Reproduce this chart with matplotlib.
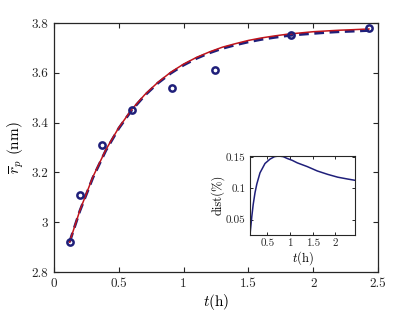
import matplotlib
matplotlib.use("Agg")
import matplotlib.pyplot as plt

plt.rcParams['font.family'] = ['cmr10', 'DejaVu Serif']
plt.rcParams['mathtext.fontset'] = 'cm'
plt.rcParams['axes.formatter.use_mathtext'] = True

# experimental points
t_exp = [0.12, 0.20, 0.37, 0.60, 0.91, 1.24, 1.83, 2.43]
r_exp = [2.92, 3.11, 3.31, 3.45, 3.54, 3.61, 3.75, 3.78]

# model curves
t_fit = [0.12, 0.20, 0.30, 0.40, 0.50, 0.60, 0.70, 0.80, 0.90, 1.00, 1.10, 1.20,
         1.30, 1.40, 1.50, 1.60, 1.70, 1.80, 1.90, 2.00, 2.10, 2.20, 2.30, 2.43]
r_red = [2.920, 3.048, 3.182, 3.291, 3.380, 3.453, 3.512, 3.561, 3.602, 3.635,
         3.662, 3.684, 3.703, 3.717, 3.730, 3.740, 3.748, 3.755, 3.760, 3.765,
         3.768, 3.771, 3.773, 3.776]
r_blue = [2.920, 3.046, 3.179, 3.288, 3.377, 3.450, 3.509, 3.558, 3.598, 3.631,
          3.658, 3.680, 3.698, 3.712, 3.724, 3.734, 3.742, 3.749, 3.754, 3.758,
          3.762, 3.765, 3.767, 3.770]

# inset: relative distance
t_dist = [0.12, 0.16, 0.19, 0.23, 0.27, 0.34, 0.45, 0.56, 0.66, 0.75, 0.85,
          0.94, 1.05, 1.16, 1.38, 1.60, 1.83, 2.05, 2.27, 2.43]
d_dist = [0.026, 0.055, 0.074, 0.093, 0.107, 0.125, 0.140, 0.147, 0.151, 0.152,
          0.151, 0.148, 0.145, 0.141, 0.135, 0.128, 0.1225, 0.118, 0.115, 0.113]

navy = '#1f1f7a'
red = '#c0141b'
spine = '#262626'

fig = plt.figure(figsize=(4.17, 3.13), dpi=100)
ax = fig.add_axes([54/417, 1-272/313, 324/417, 249/313])
ax.plot(t_fit, r_red, color=red, lw=1.1, zorder=3)
ax.plot(t_fit, r_blue, color=navy, lw=2.0, ls=(0, (3.5, 2)), zorder=2)
ax.plot(t_exp, r_exp, 'o', mfc='none', mec=navy, mew=1.8, ms=4.5, zorder=4)
ax.set_xlim(0, 2.5)
ax.set_ylim(2.8, 3.8)
ax.set_xticks([0, 0.5, 1, 1.5, 2, 2.5])
ax.set_yticks([2.8, 3.0, 3.2, 3.4, 3.6, 3.8])
ax.set_xticklabels(['0', '0.5', '1', '1.5', '2', '2.5'])
ax.set_yticklabels(['2.8', '3', '3.2', '3.4', '3.6', '3.8'])
ax.tick_params(direction='in', top=True, right=True, labelsize=9.5,
               length=3.5, width=0.8, colors=spine, pad=4)
for s in ax.spines.values():
    s.set_color(spine)
    s.set_linewidth(0.9)
ax.set_xlabel(r'$t$(h)', fontsize=11, labelpad=2)
ax.set_ylabel(r'$\overline{r}_p$ (nm)', fontsize=11, labelpad=4)

ins = fig.add_axes([250/417, 1-234.5/313, 105/417, 78.5/313])
ins.plot(t_dist, d_dist, color=navy, lw=1.1)
ins.set_xlim(0.12, 2.43)
ins.set_ylim(0.026, 0.152)
ins.set_xticks([0.5, 1, 1.5, 2])
ins.set_yticks([0.05, 0.1, 0.15])
ins.set_xticklabels(['0.5', '1', '1.5', '2'])
ins.set_yticklabels(['0.05', '0.1', '0.15'])
ins.tick_params(direction='in', top=True, right=True, labelsize=8,
                length=2.5, width=0.7, colors=spine, pad=3)
for s in ins.spines.values():
    s.set_color(spine)
    s.set_linewidth(0.8)
ins.set_xlabel(r'$t$(h)', fontsize=9, labelpad=1)
ins.set_ylabel('dist(%)', fontsize=9, labelpad=1)

fig.savefig('out.png', dpi=100)
